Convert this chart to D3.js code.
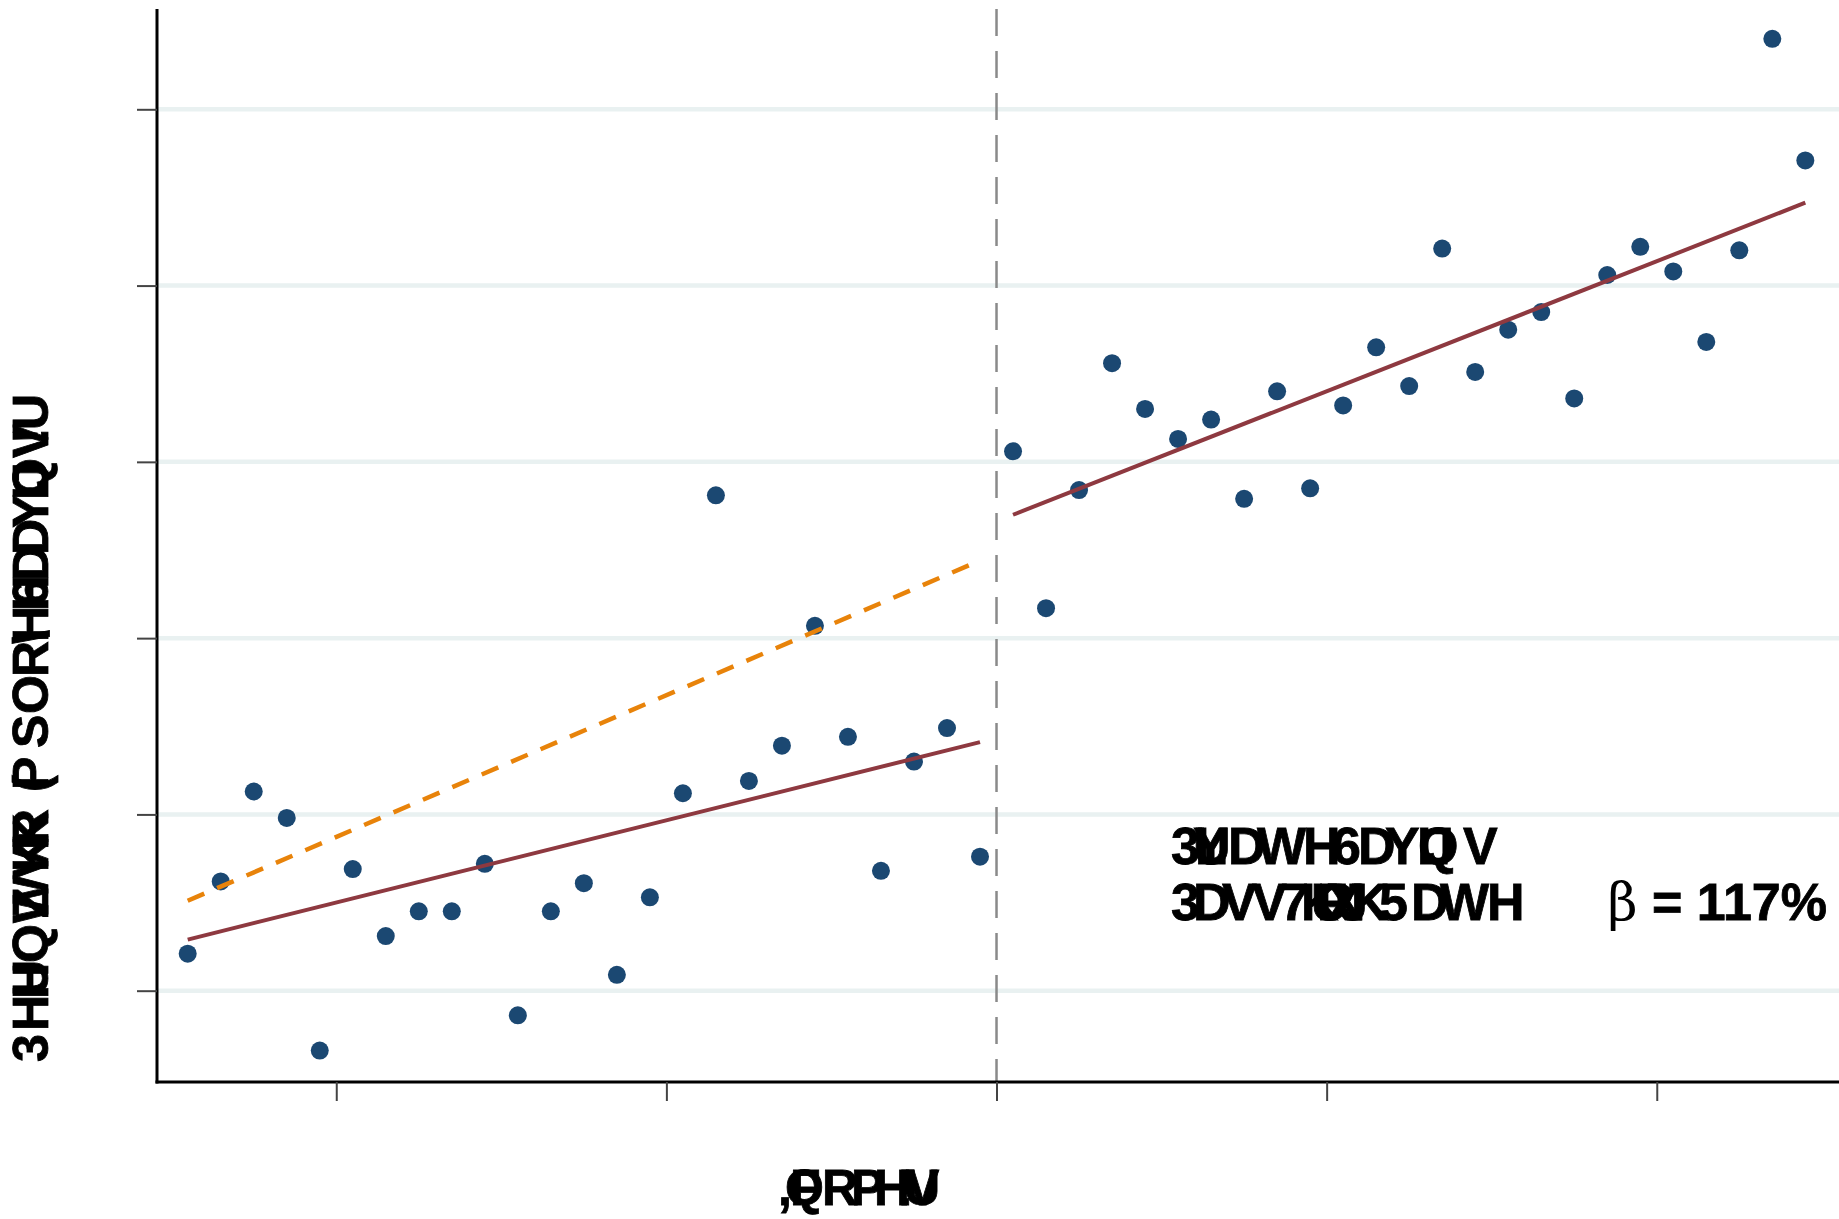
<!DOCTYPE html>
<html>
<head>
<meta charset="utf-8">
<script src="https://cdn.jsdelivr.net/npm/d3@7"></script>
<style>
  body { margin: 0; background: #fff; }
  text { font-family: "Liberation Sans", Arial, sans-serif; font-weight: bold; fill: #000;
         stroke: #000; stroke-width: 0.8px; }
</style>
</head>
<body>
<div id="chart"></div>
<script>
//#region Data
const binsLeft = [-2.45, -2.35, -2.25, -2.15, -2.05, -1.95, -1.85, -1.75, -1.65, -1.55, -1.45, -1.35, -1.25,
  -1.15, -1.05, -0.95, -0.85, -0.75, -0.65, -0.55, -0.45, -0.35, -0.25, -0.15, -0.05];
const binsRight = [0.05, 0.15, 0.25, 0.35, 0.45, 0.55, 0.65, 0.75, 0.85, 0.95, 1.05, 1.15, 1.25,
  1.35, 1.45, 1.55, 1.65, 1.75, 1.85, 1.95, 2.05, 2.15, 2.25, 2.35, 2.45];
const meansLeft = [0.21, 0.62, 1.13, 0.98, -0.34, 0.69, 0.31, 0.45, 0.45, 0.72, -0.14, 0.45, 0.61,
  0.09, 0.53, 1.12, 2.81, 1.19, 1.39, 2.07, 1.44, 0.68, 1.30, 1.49, 0.76];
const meansRight = [3.06, 2.17, 2.84, 3.56, 3.30, 3.13, 3.24, 2.79, 3.40, 2.85, 3.32, 3.65, 3.43,
  4.21, 3.51, 3.75, 3.85, 3.36, 4.06, 4.22, 4.08, 3.68, 4.20, 5.40, 4.71];
const fitLeft = [[-2.45, 0.29], [-0.05, 1.41]];
const fitRight = [[0.05, 2.70], [2.45, 4.47]];
const counterfactual = [[-2.45, 0.51], [-0.05, 2.44]];
const cutoff = 0;
const xTicks = [-2, -1, 0, 1, 2];
const yTicks = [0, 1, 2, 3, 4, 5];
const betaLabel = "117%";
//#endregion

//#region SVG setup
const width = 1839, height = 1219;
const plot = { left: 157, right: 1839, top: 9, bottom: 1082 };
const svg = d3.select("#chart").append("svg")
  .attr("width", width).attr("height", height)
  .style("display", "block");

const scaleX = d3.scaleLinear().domain([-2.543, 2.552]).range([plot.left, plot.right]);
const scaleY = d3.scaleLinear().domain([-0.518, 5.569]).range([plot.bottom, plot.top]);

const points = binsLeft.map((b, i) => [b, meansLeft[i]])
  .concat(binsRight.map((b, i) => [b, meansRight[i]]));
//#endregion

//#region Gridlines
svg.append("g")
  .selectAll("line")
  .data(yTicks)
  .join("line")
  .attr("x1", plot.left).attr("x2", plot.right)
  .attr("y1", d => scaleY(d)).attr("y2", d => scaleY(d))
  .attr("stroke", "#e9f1f1")
  .attr("stroke-width", 4.5);
//#endregion

//#region Cutoff line
svg.append("line")
  .attr("x1", scaleX(cutoff)).attr("x2", scaleX(cutoff))
  .attr("y1", plot.top).attr("y2", plot.bottom)
  .attr("stroke", "#8a8a8a")
  .attr("stroke-width", 2.5)
  .attr("stroke-dasharray", "27 15");
//#endregion

//#region Binned means
svg.append("g")
  .selectAll("circle")
  .data(points)
  .join("circle")
  .attr("cx", d => scaleX(d[0]))
  .attr("cy", d => scaleY(d[1]))
  .attr("r", 9)
  .attr("fill", "#1b4872");
//#endregion

//#region Fit lines
const line = d3.line().x(d => scaleX(d[0])).y(d => scaleY(d[1]));

svg.append("path")
  .datum(counterfactual)
  .attr("d", line)
  .attr("fill", "none")
  .attr("stroke", "#e8830a")
  .attr("stroke-width", 4.5)
  .attr("stroke-dasharray", "18 14");

[fitLeft, fitRight].forEach(seg => {
  svg.append("path")
    .datum(seg)
    .attr("d", line)
    .attr("fill", "none")
    .attr("stroke", "#8e3940")
    .attr("stroke-width", 4);
});
//#endregion

//#region Axes
const xAxis = d3.axisBottom(scaleX).tickValues(xTicks).tickFormat("").tickSize(19).tickSizeOuter(0);
const yAxis = d3.axisLeft(scaleY).tickValues(yTicks).tickFormat("").tickSize(20).tickSizeOuter(0);

const gx = svg.append("g").attr("transform", `translate(0, ${plot.bottom})`).call(xAxis);
const gy = svg.append("g").attr("transform", `translate(${plot.left}, 0)`).call(yAxis);

[gx, gy].forEach(g => {
  g.select(".domain").attr("stroke", "#000").attr("stroke-width", 3);
  g.selectAll(".tick line").attr("stroke", "#444").attr("stroke-width", 2);
});
gy.select(".domain").attr("d", `M0,${plot.top}V${plot.bottom + 1.5}`);
gx.select(".domain").attr("d", `M${plot.left - 1.5},0H${plot.right}`);
//#endregion

//#region Labels (glyphs placed one by one, as in the picture)
const glyphText = (g, str, xs, size) =>
  g.append("text")
    .attr("x", xs.join(" "))
    .style("font-size", size + "px")
    .text(str);

// x-axis title
glyphText(svg.append("g").attr("transform", "translate(0, 1205)"),
  ",QFRPH!UV", [778, 785, 790, 822, 851, 874, 897, 904, 906], 50);

// y-axis title, reading upwards
glyphText(svg.append("g").attr("transform", "translate(48, 1062) rotate(-90)"),
  "3HHUQWZVKKR(PSOR\\HH6DDYLQJV!U",
  [0, 31, 63, 66, 99, 139, 144, 183, 190, 212, 217, 270, 272, 314, 348, 385, 418, 420, 451,
    456, 481, 507, 534, 562, 565, 572, 604, 618, 632], 50);

// annotation block
glyphText(svg.append("g").attr("transform", "translate(0, 864)"),
  "3ULYDWH6DYLQJV",
  [1171, 1193, 1195, 1193, 1228, 1257, 1303, 1332, 1358, 1385, 1417, 1418, 1425, 1463], 52);
glyphText(svg.append("g").attr("transform", "translate(0, 920)"),
  "3DVV7KURXJK5DWH",
  [1171, 1193, 1222, 1252, 1280, 1301, 1311, 1317, 1327, 1339, 1351, 1379, 1411, 1440, 1487], 52);

const beta = svg.append("text")
  .attr("x", 1827).attr("y", 920)
  .attr("text-anchor", "end")
  .style("font-size", "52px");
beta.append("tspan").style("font-weight", "normal").style("stroke-width", "0")
  .style("font-family", "DejaVu Serif").text("β");
beta.append("tspan").text(" = " + betaLabel);
//#endregion
</script>
</body>
</html>
